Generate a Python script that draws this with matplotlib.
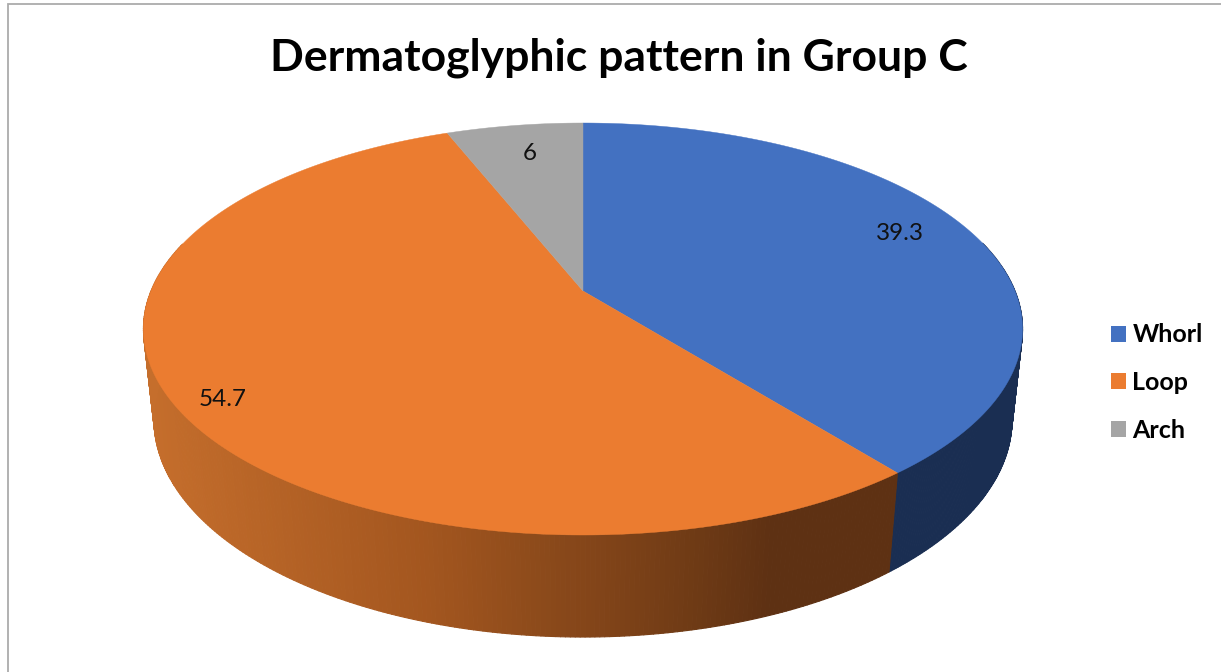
import numpy as np
import matplotlib
matplotlib.use("Agg")
import matplotlib.pyplot as plt
from matplotlib.collections import PolyCollection
from matplotlib.colors import to_rgb
from matplotlib.patches import Patch, Polygon

# Chart data
categories = ["Whorl", "Loop", "Arch"]
values = [39.3, 54.7, 6]
value_labels = ["39.3", "54.7", "6"]

# Styling
top_colors = ["#4371C1", "#EB7C30", "#A5A5A5"]
whorl_wall = "#1A2E52"
loop_wall_stops = [(150, "#C56E2C"), (430, "#A3561F"), (700, "#6E3A15"), (770, "#5E3113"), (900, "#5E3113")]
label_anchor = [(900, 233), (223, 400), (530, 154)]
text_font = "Lato"

# Projective camera for a tilted disc (u right, v away, h = 0 top, h = 1 bottom)
CX, A_X = 583.0, 432.0
A_Y, B_Y, C_V = -145.3, 291.0, 0.1845
DEPTH_W, DEPTH_Y = 0.0237, 98.3


def project(u, v, h=0.0):
    w = 1 + C_V * v + DEPTH_W * h
    return CX + A_X * u / w, (A_Y * v + B_Y + DEPTH_Y * h) / w


def rim(theta, h=0.0):
    return project(np.sin(theta), np.cos(theta), h)


def loop_wall_color(x):
    xs = [s[0] for s in loop_wall_stops]
    rgb = np.array([to_rgb(s[1]) for s in loop_wall_stops])
    return tuple(np.interp(x, xs, rgb[:, i]) for i in range(3))


fig = plt.figure(figsize=(12.21, 6.72), dpi=100, facecolor="white")
ax = fig.add_axes([0, 0, 1, 1])
ax.set_xlim(0, 1221)
ax.set_ylim(672, 0)
ax.axis("off")

# Chart frame: top and left edges only reach the canvas
ax.plot([8, 8, 1221], [672, 3.5, 3.5], color="#ABABAB", lw=1.3, solid_joinstyle="miter", zorder=1)

# Slice boundaries, clockwise from twelve o'clock
fractions = np.cumsum([0] + values) / np.sum(values)
edges = 2 * np.pi * fractions

# Side wall: short quads so the shading can vary across the front
quads, colors = [], []
for k in range(len(values)):
    start, stop = edges[k], edges[k + 1]
    for lo, hi in zip(np.linspace(start, stop, 361)[:-1], np.linspace(start, stop, 361)[1:]):
        if np.cos((lo + hi) / 2) > 0.25:
            continue
        x0, y0 = rim(lo)
        x1, y1 = rim(hi)
        x2, y2 = rim(hi, 1)
        x3, y3 = rim(lo, 1)
        quads.append([(x0, y0), (x1, y1), (x2, y2), (x3, y3)])
        colors.append(whorl_wall if k == 0 else loop_wall_color((x0 + x3) / 2))
ax.add_collection(PolyCollection(quads, facecolors=colors, edgecolors=colors, linewidths=0.8, zorder=2))

# Top face
for k, color in enumerate(top_colors):
    theta = np.linspace(edges[k], edges[k + 1], 300)
    xs, ys = rim(theta)
    ax_, ay_ = project(0.0, 0.0)
    poly = np.column_stack([np.r_[ax_, xs], np.r_[ay_, ys]])
    ax.add_patch(Polygon(poly, closed=True, facecolor=color, edgecolor=color, lw=0.3, zorder=3))

for text, (x, y) in zip(value_labels, label_anchor):
    ax.text(x, y, text, ha="center", va="center", fontsize=17.5, family=text_font, color="#111111", zorder=4)

ax.text(619, 58, "Dermatoglyphic pattern in Group C", ha="center", va="center",
        fontsize=32, fontweight="bold", family=text_font, color="black", zorder=4)

handles = [Patch(facecolor=c, edgecolor="none") for c in top_colors]
ax.legend(handles, categories, loc="center left", bbox_to_anchor=(1088 / 1221, 1 - 382.5 / 672),
          frameon=False, handlelength=0.6, handleheight=0.6, handletextpad=0.28,
          labelspacing=0.98, prop={"family": text_font, "weight": "bold", "size": 18})

fig.savefig("out.png", dpi=100)
